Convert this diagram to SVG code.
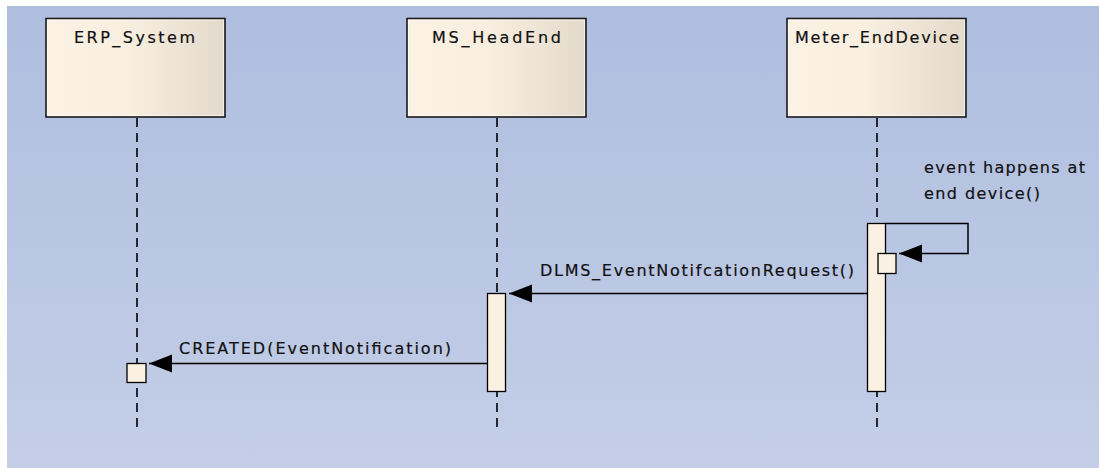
<svg xmlns="http://www.w3.org/2000/svg" width="1099" height="468" viewBox="0 0 1099 468">
<defs>
<linearGradient id="bg" x1="0" y1="0" x2="0" y2="1">
<stop offset="0" stop-color="#aebedf"/>
<stop offset="1" stop-color="#c4cee7"/>
</linearGradient>
<linearGradient id="boxfill" x1="0" y1="0" x2="1" y2="0">
<stop offset="0" stop-color="#fbf2e4"/>
<stop offset="0.45" stop-color="#f9efe1"/>
<stop offset="1" stop-color="#e3dacb"/>
</linearGradient>
<marker id="arrow" markerUnits="userSpaceOnUse" markerWidth="24" markerHeight="20" viewBox="0 0 24 20" refX="23" refY="10" orient="auto">
<path d="M0,1 L23,10 L0,19 Z" fill="#000"/>
</marker>
<style>
.box{fill:url(#boxfill);stroke:#1a1a1a;stroke-width:1.6}
.inner{fill:none;stroke:#ffffff;stroke-opacity:0.5;stroke-width:1}
.life{stroke:#000;stroke-width:1.6;stroke-dasharray:9 6;fill:none}
.act{fill:#fbf1e3;stroke:#000;stroke-width:1.3}
.msg{stroke:#000;stroke-width:1.5;fill:none;marker-end:url(#arrow)}
.lbl{font-family:"DejaVu Sans","Liberation Sans",sans-serif;font-size:16px;fill:#111;stroke:#111;stroke-width:0.2}
</style>
</defs>
<rect x="0" y="0" width="1099" height="468" fill="#ffffff"/>
<rect x="7" y="6" width="1092" height="462" fill="url(#bg)"/>

<g id="connectors">
<line class="life" x1="137" y1="118" x2="137" y2="433"/>
<line class="life" x1="497" y1="118" x2="497" y2="433"/>
<line class="life" x1="877" y1="118" x2="877" y2="433"/>
<path class="msg" d="M886,223.5 H968 V253.5 H899"/>
<line class="msg" x1="867.5" y1="293.5" x2="509" y2="293.5"/>
<line class="msg" x1="487.5" y1="363.5" x2="149" y2="363.5"/>
<text class="lbl" x="924" y="173" textLength="161" lengthAdjust="spacing">event happens at</text>
<text class="lbl" x="924" y="199" textLength="116" lengthAdjust="spacing">end device()</text>
<text class="lbl" x="540" y="276" textLength="314" lengthAdjust="spacing">DLMS_EventNotifcationRequest()</text>
<text class="lbl" x="179" y="354" textLength="272" lengthAdjust="spacing">CREATED(EventNotification)</text>
</g>

<g id="ERP_System">
<rect class="box" x="46" y="18.5" width="179" height="98.5"/>
<rect class="inner" x="47.5" y="20" width="176" height="95.5"/>
<text class="lbl" x="74" y="43" textLength="121" lengthAdjust="spacing">ERP_System</text>
<rect class="act" x="127" y="363.5" width="19" height="19"/>
</g>

<g id="MS_HeadEnd">
<rect class="box" x="407" y="18.5" width="179" height="98.5"/>
<rect class="inner" x="408.5" y="20" width="176" height="95.5"/>
<text class="lbl" x="432" y="43" textLength="129" lengthAdjust="spacing">MS_HeadEnd</text>
<rect class="act" x="487.5" y="293.5" width="18" height="98"/>
</g>

<g id="Meter_EndDevice">
<rect class="box" x="787" y="18.5" width="179" height="98.5"/>
<rect class="inner" x="788.5" y="20" width="176" height="95.5"/>
<text class="lbl" x="795" y="43" textLength="164" lengthAdjust="spacing">Meter_EndDevice</text>
<rect class="act" x="867.5" y="223.5" width="18" height="168"/>
<rect class="act" x="878" y="253.5" width="18" height="20"/>
</g>
</svg>
